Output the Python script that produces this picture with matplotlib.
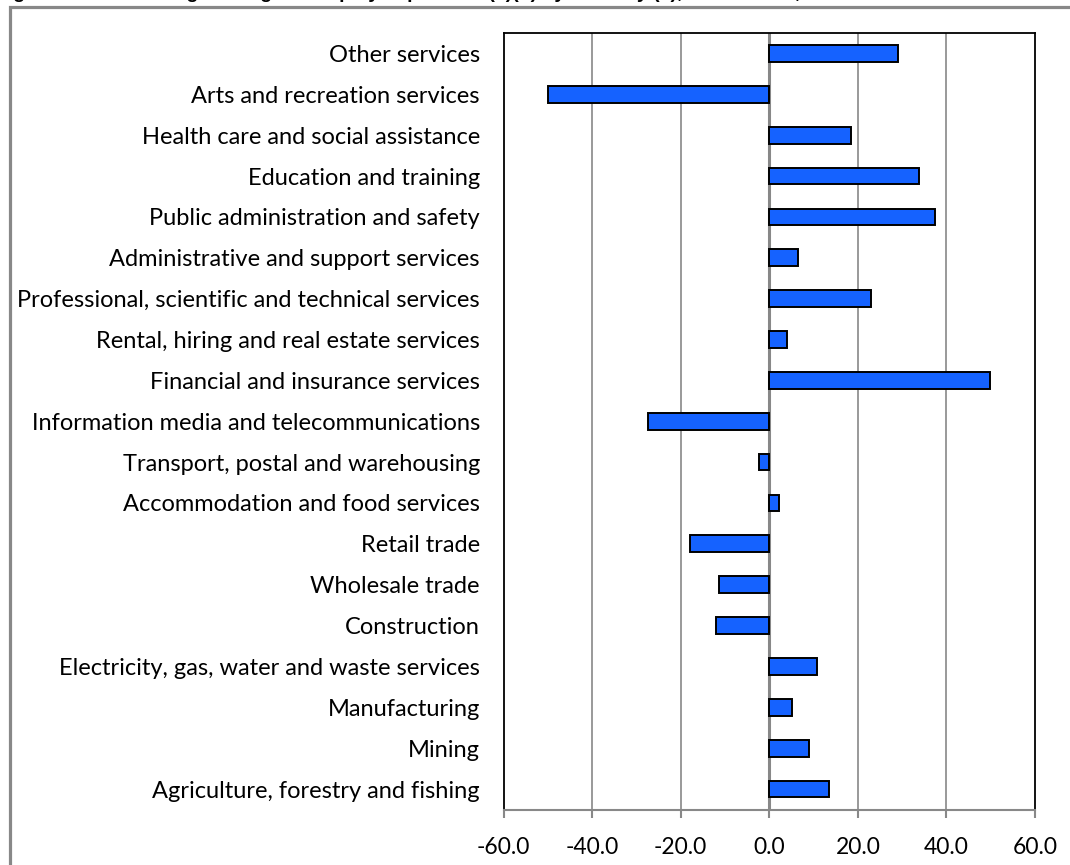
import matplotlib
matplotlib.use("Agg")
import matplotlib.pyplot as plt
from matplotlib.patches import Rectangle
import numpy as np

industries = [
    "Agriculture, forestry and fishing",
    "Mining",
    "Manufacturing",
    "Electricity, gas, water and waste services",
    "Construction",
    "Wholesale trade",
    "Retail trade",
    "Accommodation and food services",
    "Transport, postal and warehousing",
    "Information media and telecommunications",
    "Financial and insurance services",
    "Rental, hiring and real estate services",
    "Professional, scientific and technical services",
    "Administrative and support services",
    "Public administration and safety",
    "Education and training",
    "Health care and social assistance",
    "Arts and recreation services",
    "Other services",
]
pct_change = [13.4, 8.9, 5.1, 10.8, -12.1, -11.3, -18.0, 2.1, -2.4, -27.4,
              49.8, 4.1, 22.9, 6.5, 37.4, 33.9, 18.5, -50.0, 29.0]
xticks = [-60, -40, -20, 0, 20, 40, 60]

W, H = 1070, 865
fig = plt.figure(figsize=(W / 100, H / 100), dpi=100)
ax = fig.add_axes([503.5 / W, 1 - 809.5 / H, (1035 - 503.5) / W, (809.5 - 33) / H])

y = np.arange(len(industries))
ax.barh(y, pct_change, height=0.41, color="#1562ff", edgecolor="black",
        linewidth=1.4, zorder=3)

ax.set_xlim(-60, 60)
ax.set_ylim(-0.5, len(industries) - 0.5)
ax.set_xticks(xticks)
ax.set_xticklabels([f"{v:.1f}" for v in xticks], fontsize=16.5, family="Lato")
ax.set_yticks(y)
ax.set_yticklabels(industries, fontsize=17, family="Lato")
ax.tick_params(axis="y", length=0, pad=17)
ax.tick_params(axis="x", length=5.5, color="#888888", pad=14, width=1.5)

for v in xticks[1:-1]:
    ax.axvline(v, color="#888888", lw=2.2 if v == 0 else 1.2, zorder=2)

for s in ["left", "top", "right"]:
    ax.spines[s].set_color("black")
    ax.spines[s].set_linewidth(1.3)
ax.spines["bottom"].set_color("#888888")
ax.spines["bottom"].set_linewidth(1.5)

# outer chart frame (runs past the right/bottom edge)
fig.patches.append(Rectangle((9.5 / W, -0.05), 1.2, 1 - 7.5 / H + 0.05,
                             transform=fig.transFigure, fill=False,
                             edgecolor="#888888", linewidth=2.3))

fig.text(-0.004, 1 + 1.5 / H,
         "Figure 6.1   Percentage change in employed persons (a)(b) by industry (c), Marrickville, 2006 to 2011",
         fontsize=14, fontweight="bold", family="Liberation Sans", va="baseline", ha="left")

fig.savefig("out.png", dpi=100)
